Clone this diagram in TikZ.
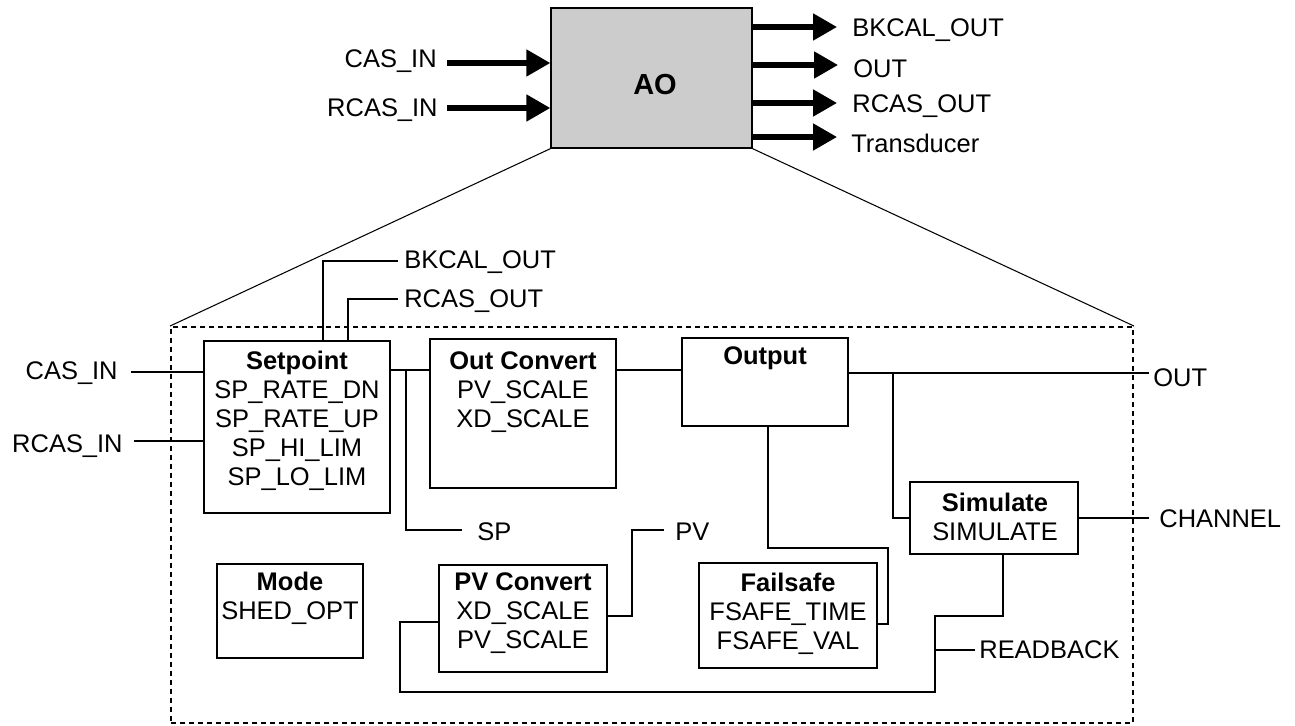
\documentclass[tikz,border=0pt]{standalone}
\usepackage{fontspec}
\setmainfont{Liberation Sans}
\usetikzlibrary{arrows.meta,fit}
\definecolor{aogray}{HTML}{CCCCCC}
\begin{document}
\begin{tikzpicture}[x=0.02cm,y=-0.02cm,
  blk/.style={draw, line width=0.8pt, inner sep=0, rectangle},
  txt/.style={inner sep=0, align=center, font=\fontsize{14.5pt}{16.5pt}\selectfont},
  lbl/.style={inner sep=0, font=\fontsize{14.5pt}{16.5pt}\selectfont},
  wire/.style={line width=0.6pt},
  bigarrow/.style={line width=2.9pt, -{Triangle[length=0.48cm,width=0.52cm]}},
  frm/.style={draw, dash pattern=on 0.1cm off 0.08cm, line width=1.1pt, inner sep=0, rectangle}
]
\useasboundingbox (0,0) rectangle (1295,726);

% ---- top AO block ----
\node[blk, fill=aogray, fit={(551,8) (752,148)}] (ao) {};
\node[inner sep=0, font=\bfseries\fontsize{16.5pt}{18pt}\selectfont] (aot) at (655,85) {AO};

\node[lbl, anchor=base east] (tcas) at (437,68) {CAS\_IN};
\node[lbl, anchor=base east] (trcas) at (438,117) {RCAS\_IN};
\draw[bigarrow, shorten <=0.2cm] (tcas.east |- 0,63) -- (ao.west |- 0,63);
\draw[bigarrow, shorten <=0.18cm] (trcas.east |- 0,108) -- (ao.west |- 0,108);

\node[lbl, anchor=base west] (tbk) at (852,37) {BKCAL\_OUT};
\node[lbl, anchor=base west] (tout) at (853,78) {OUT};
\node[lbl, anchor=base west] (trc) at (852,113) {RCAS\_OUT};
\node[lbl, anchor=base west] (ttr) at (851,153) {Transducer};
\draw[bigarrow, shorten >=0.3cm] (ao.east |- 0,27) -- (tbk.west |- 0,27);
\draw[bigarrow, shorten >=0.3cm] (ao.east |- 0,65) -- (tout.west |- 0,65);
\draw[bigarrow, shorten >=0.3cm] (ao.east |- 0,103) -- (trc.west |- 0,103);
\draw[bigarrow, shorten >=0.28cm] (ao.east |- 0,137) -- (ttr.west |- 0,137);

% ---- expanded frame ----
\node[frm, fit={(171,327) (1133,723)}] (frame) {};
\draw[wire] (ao.south west) -- (frame.north west);
\draw[wire] (ao.south east) -- (frame.north east);

% ---- inner blocks ----
\node[blk, fit={(204,341) (390,513)}] (sp) {};
\node[txt, anchor=north] (spt) at (297,351) {\textbf{Setpoint}\\SP\_RATE\_DN\\SP\_RATE\_UP\\SP\_HI\_LIM\\SP\_LO\_LIM};
\node[blk, fit={(430,339) (616,488)}] (oc) {};
\node[txt, anchor=north] (oct) at (523,351) {\textbf{Out Convert}\\PV\_SCALE\\XD\_SCALE};
\node[blk, fit={(682,338) (848,426)}] (op) {};
\node[txt, anchor=north] (opt) at (765,346) {\textbf{Output}};
\node[blk, fit={(910,482) (1078,554)}] (sim) {};
\node[txt, anchor=north] (simt) at (995,493) {\textbf{Simulate}\\SIMULATE};
\node[blk, fit={(217,564) (363,658)}] (md) {};
\node[txt, anchor=north] (mdt) at (290,572) {\textbf{Mode}\\SHED\_OPT};
\node[blk, fit={(439,565) (607,672)}] (pvc) {};
\node[txt, anchor=north] (pvct) at (523,572) {\textbf{PV Convert}\\XD\_SCALE\\PV\_SCALE};
\node[blk, fit={(699,563) (877,668)}] (fs) {};
\node[txt, anchor=north] (fst) at (788,573) {\textbf{Failsafe}\\FSAFE\_TIME\\FSAFE\_VAL};

% ---- inner labels ----
\node[lbl, anchor=base east] (lcas) at (118,379) {CAS\_IN};
\node[lbl, anchor=base east] (lrcas) at (123,452) {RCAS\_IN};
\node[lbl, anchor=base west] (lbk) at (404,269) {BKCAL\_OUT};
\node[lbl, anchor=base west] (lrc) at (404,308) {RCAS\_OUT};
\node[lbl, anchor=base west] (lsp) at (477,540) {SP};
\node[lbl, anchor=base west] (lpv) at (675,540) {PV};
\node[lbl, anchor=base west] (lo) at (1153,386) {OUT};
\node[lbl, anchor=base west] (lch) at (1159,527) {CHANNEL};
\node[lbl, anchor=base west] (lrb) at (979,658) {READBACK};

% ---- junctions ----
\coordinate (jsp) at (406,370);
\coordinate (jout) at (893,373);
\coordinate (jrb) at (935,650);

% ---- inner wires ----
\draw[wire, shorten <=0.26cm] (lcas.east |- 0,372) -- (sp.west |- 0,372);
\draw[wire, shorten <=0.22cm] (lrcas.east |- 0,441) -- (sp.west |- 0,441);
\draw[wire, shorten >=0.12cm] (sp.north -| 323,0) |- (lbk.west |- 0,261);
\draw[wire, shorten >=0.12cm] (sp.north -| 348,0) |- (lrc.west |- 0,299);
\draw[wire] (sp.east |- 0,370) -- (oc.west |- 0,370);
\draw[wire, shorten >=0.3cm] (jsp) |- (lsp.west |- 0,530);
\draw[wire] (oc.east |- 0,370) -- (op.west |- 0,370);
\draw[wire, shorten >=0.08cm] (op.east |- 0,373) -- (lo.west |- 0,373);
\draw[wire] (jout) |- (sim.west);
\draw[wire] (op.south -| 768,0) -- (768,548) -| (888,624) -- (fs.east |- 0,624);
\draw[wire, shorten >=0.2cm] (sim.east) -- (lch.west |- sim.east);
\draw[wire, shorten >=0.22cm] (pvc.east |- 0,616) -| (632,530) -- (lpv.west |- 0,530);
\draw[wire] (sim.south -| 1003,0) |- (935,616) |- (400,692) |- (pvc.west |- 0,622);
\draw[wire, shorten >=0.08cm] (jrb) -- (lrb.west |- jrb);
\end{tikzpicture}
\end{document}
